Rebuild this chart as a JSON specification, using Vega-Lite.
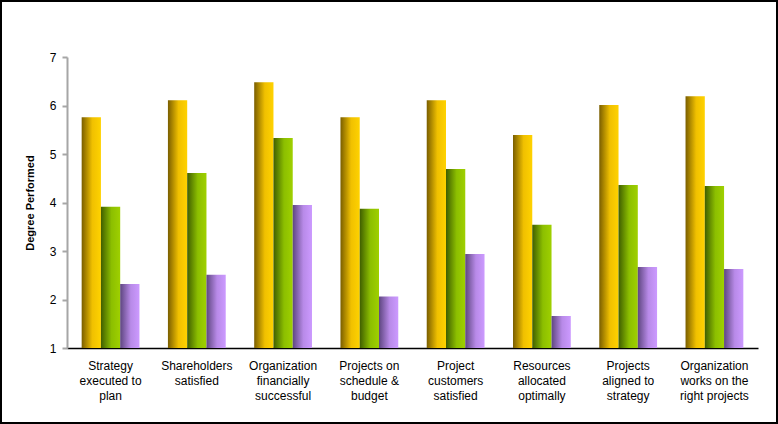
{
  "$schema": "https://vega.github.io/schema/vega-lite/v6.json",
  "width": 776,
  "height": 422,
  "padding": 1,
  "autosize": {"type": "none"},
  "background": "white",
  "config": {
    "view": {"stroke": "black", "strokeWidth": 2},
    "font": "Liberation Sans"
  },
  "data": {
    "values": [
      {"category": "Strategy executed to plan", "series": "A", "value": 5.76},
      {"category": "Strategy executed to plan", "series": "B", "value": 3.91},
      {"category": "Strategy executed to plan", "series": "C", "value": 2.32},
      {"category": "Shareholders satisfied", "series": "A", "value": 6.11},
      {"category": "Shareholders satisfied", "series": "B", "value": 4.61},
      {"category": "Shareholders satisfied", "series": "C", "value": 2.51},
      {"category": "Organization financially successful", "series": "A", "value": 6.48},
      {"category": "Organization financially successful", "series": "B", "value": 5.33},
      {"category": "Organization financially successful", "series": "C", "value": 3.95},
      {"category": "Projects on schedule & budget", "series": "A", "value": 5.76},
      {"category": "Projects on schedule & budget", "series": "B", "value": 3.87},
      {"category": "Projects on schedule & budget", "series": "C", "value": 2.06},
      {"category": "Project customers satisfied", "series": "A", "value": 6.11},
      {"category": "Project customers satisfied", "series": "B", "value": 4.69},
      {"category": "Project customers satisfied", "series": "C", "value": 2.94},
      {"category": "Resources allocated optimally", "series": "A", "value": 5.39},
      {"category": "Resources allocated optimally", "series": "B", "value": 3.54},
      {"category": "Resources allocated optimally", "series": "C", "value": 1.66},
      {"category": "Projects aligned to strategy", "series": "A", "value": 6.01},
      {"category": "Projects aligned to strategy", "series": "B", "value": 4.36},
      {"category": "Projects aligned to strategy", "series": "C", "value": 2.67},
      {"category": "Organization works on the right projects", "series": "A", "value": 6.19},
      {"category": "Organization works on the right projects", "series": "B", "value": 4.34},
      {"category": "Organization works on the right projects", "series": "C", "value": 2.63}
    ]
  },
  "encoding": {
    "x": {
      "field": "category",
      "type": "nominal",
      "sort": null,
      "scale": {"range": [66, 757], "paddingInner": 0.33, "paddingOuter": 0.17},
      "axis": {
        "title": null,
        "offset": -75,
        "labelAngle": 0,
        "ticks": false,
        "domainColor": "black",
        "domainWidth": 1.5,
        "labelColor": "black",
        "labelFontSize": 12,
        "labelPadding": 12,
        "labelLineHeight": 15,
        "labelBaseline": "top",
        "labelLimit": 0,
        "labelExpr": "datum.label == 'Strategy executed to plan' ? ['Strategy','executed to','plan'] : datum.label == 'Shareholders satisfied' ? ['Shareholders','satisfied'] : datum.label == 'Organization financially successful' ? ['Organization','financially','successful'] : datum.label == 'Projects on schedule & budget' ? ['Projects on','schedule &','budget'] : datum.label == 'Project customers satisfied' ? ['Project','customers','satisfied'] : datum.label == 'Resources allocated optimally' ? ['Resources','allocated','optimally'] : datum.label == 'Projects aligned to strategy' ? ['Projects','aligned to','strategy'] : ['Organization','works on the','right projects']"
      }
    },
    "xOffset": {
      "field": "series",
      "type": "nominal",
      "scale": {"domain": ["A", "B", "C"], "paddingInner": 0, "paddingOuter": 0}
    },
    "y": {
      "field": "value",
      "type": "quantitative",
      "scale": {"domain": [1, 7], "range": [347, 56], "nice": false, "zero": false},
      "axis": {
        "title": "Degree Performed",
        "titleFontSize": 11,
        "titleFontWeight": "bold",
        "titleColor": "black",
        "titlePadding": 14,
        "offset": -66,
        "values": [1, 2, 3, 4, 5, 6, 7],
        "grid": false,
        "domainColor": "#a6a6a6",
        "domainWidth": 2,
        "tickColor": "#a6a6a6",
        "tickWidth": 2,
        "tickSize": 5,
        "labelColor": "black",
        "labelFontSize": 12,
        "labelPadding": 6
      }
    },
    "y2": {"datum": 1}
  },
  "layer": [
    {
      "transform": [{"filter": "datum.series == 'A'"}],
      "mark": {
        "type": "bar",
        "color": {
          "gradient": "linear", "x1": 0, "y1": 0, "x2": 1, "y2": 0,
          "stops": [
            {"offset": 0, "color": "#7a5e00"},
            {"offset": 0.55, "color": "#f0c000"},
            {"offset": 1, "color": "#ffd200"}
          ]
        }
      }
    },
    {
      "transform": [{"filter": "datum.series == 'B'"}],
      "mark": {
        "type": "bar",
        "color": {
          "gradient": "linear", "x1": 0, "y1": 0, "x2": 1, "y2": 0,
          "stops": [
            {"offset": 0, "color": "#3f5e00"},
            {"offset": 0.55, "color": "#8cbf00"},
            {"offset": 1, "color": "#9fd000"}
          ]
        }
      }
    },
    {
      "transform": [{"filter": "datum.series == 'C'"}],
      "mark": {
        "type": "bar",
        "color": {
          "gradient": "linear", "x1": 0, "y1": 0, "x2": 1, "y2": 0,
          "stops": [
            {"offset": 0, "color": "#5e4680"},
            {"offset": 0.55, "color": "#b88ae8"},
            {"offset": 1, "color": "#cc9aff"}
          ]
        }
      }
    }
  ]
}
